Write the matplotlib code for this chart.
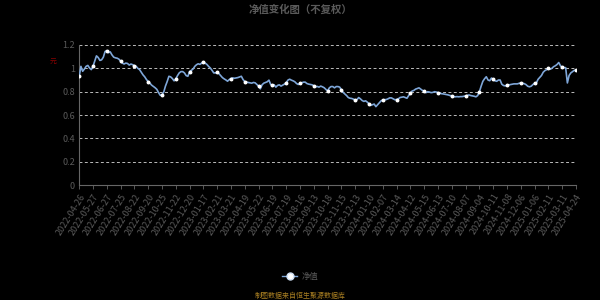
# **** imports ****
import matplotlib
matplotlib.use('Agg')
import matplotlib.pyplot as plt             # for plotting
from matplotlib.lines import Line2D         # for legend handle

plt.rcParams['font.family'] = ['Noto Sans CJK SC', 'DejaVu Sans']

# **** data: net value (8 samples per tick interval) ****
nav = [
    0.932, 1.017, 0.975, 0.994, 1.017, 1.025, 1.003, 0.989,
    1.017, 1.062, 1.107, 1.093, 1.068, 1.073, 1.096, 1.144,
    1.152, 1.135, 1.141, 1.115, 1.096, 1.090, 1.087, 1.079,
    1.062, 1.045, 1.037, 1.045, 1.042, 1.028, 1.037, 1.031,
    1.023, 1.017, 1.000, 0.989, 0.966, 0.944, 0.927, 0.904,
    0.887, 0.873, 0.856, 0.845, 0.834, 0.820, 0.792, 0.769,
    0.775, 0.797, 0.848, 0.887, 0.932, 0.927, 0.913, 0.893,
    0.910, 0.938, 0.961, 0.972, 0.972, 0.961, 0.938, 0.932,
    0.972, 0.983, 0.994, 1.017, 1.031, 1.039, 1.034, 1.045,
    1.056, 1.045, 1.034, 1.017, 1.003, 0.983, 0.961, 0.961,
    0.966, 0.955, 0.938, 0.921, 0.910, 0.901, 0.890, 0.904,
    0.913, 0.918, 0.915, 0.918, 0.921, 0.927, 0.932, 0.904,
    0.887, 0.882, 0.879, 0.876, 0.873, 0.879, 0.876, 0.862,
    0.848, 0.825, 0.859, 0.873, 0.879, 0.885, 0.899, 0.862,
    0.854, 0.859, 0.839, 0.854, 0.859, 0.848, 0.856, 0.865,
    0.876, 0.899, 0.907, 0.899, 0.893, 0.885, 0.870, 0.862,
    0.873, 0.876, 0.882, 0.882, 0.870, 0.865, 0.862, 0.859,
    0.851, 0.842, 0.845, 0.839, 0.848, 0.842, 0.834, 0.820,
    0.806, 0.833, 0.844, 0.844, 0.833, 0.844, 0.844, 0.839,
    0.817, 0.794, 0.781, 0.767, 0.750, 0.744, 0.742, 0.736,
    0.728, 0.731, 0.750, 0.739, 0.725, 0.717, 0.722, 0.711,
    0.697, 0.683, 0.689, 0.694, 0.672, 0.689, 0.706, 0.722,
    0.728, 0.731, 0.733, 0.739, 0.747, 0.747, 0.739, 0.731,
    0.733, 0.739, 0.750, 0.753, 0.756, 0.750, 0.744, 0.767,
    0.786, 0.806, 0.811, 0.822, 0.828, 0.833, 0.822, 0.811,
    0.803, 0.792, 0.800, 0.797, 0.792, 0.794, 0.800, 0.797,
    0.792, 0.789, 0.783, 0.781, 0.778, 0.775, 0.772, 0.767,
    0.764, 0.758, 0.756, 0.758, 0.756, 0.758, 0.758, 0.761,
    0.764, 0.769, 0.772, 0.767, 0.764, 0.761, 0.756, 0.767,
    0.800, 0.847, 0.889, 0.911, 0.928, 0.900, 0.894, 0.917,
    0.906, 0.894, 0.889, 0.900, 0.900, 0.864, 0.853, 0.850,
    0.856, 0.858, 0.861, 0.864, 0.867, 0.867, 0.867, 0.872,
    0.875, 0.872, 0.869, 0.861, 0.847, 0.842, 0.847, 0.861,
    0.872, 0.875, 0.906, 0.922, 0.939, 0.967, 0.981, 0.989,
    1.000, 0.992, 1.000, 1.014, 1.022, 1.033, 1.050, 1.022,
    1.008, 1.006, 1.006, 0.875, 0.939, 0.961, 0.972, 0.983,
    0.983,
]

# **** x tick labels (one every 8 samples) ****
tick_labels = [
    '2022-04-26', '2022-05-27', '2022-06-27', '2022-07-25', '2022-08-22',
    '2022-09-20', '2022-10-25', '2022-11-22', '2022-12-20', '2023-01-17',
    '2023-02-21', '2023-03-21', '2023-04-19', '2023-05-22', '2023-06-19',
    '2023-07-19', '2023-08-16', '2023-09-13', '2023-10-18', '2023-11-15',
    '2023-12-13', '2024-01-10', '2024-02-07', '2024-03-14', '2024-04-12',
    '2024-05-15', '2024-06-13', '2024-07-10', '2024-08-07', '2024-09-04',
    '2024-10-11', '2024-11-08', '2024-12-06', '2025-01-06', '2025-02-11',
    '2025-03-11', '2025-04-24',
]
yticks = [0, 0.2, 0.4, 0.6, 0.8, 1, 1.2]
ytick_labels = ['0', '0.2', '0.4', '0.6', '0.8', '1', '1.2']

step = 8
x = list(range(len(nav)))

# **** colours ****
bg = '#000000'
line_c = '#7ea6d8'
text_c = '#5a5a5a'
axis_c = '#666666'
grid_c = '#bbbbbb'

# **** figure ****
fig = plt.figure(figsize=(6, 3), dpi=100, facecolor=bg)
ax = fig.add_axes([0.132, 0.383, 0.828, 0.467], facecolor=bg)

ax.plot(x, nav, color=line_c, lw=1.2, marker='o', markersize=1.8,
        markevery=step, markerfacecolor='white', markeredgecolor='white',
        zorder=3)

ax.set_xlim(0, len(nav) - 1)
ax.set_ylim(0, 1.2)

# **** grid ****
for yv in yticks[1:]:
    ax.axhline(yv, color=grid_c, lw=0.7, ls=(0, (3, 2.5)), zorder=1)

# **** axes styling ****
for s in ['top', 'right']:
    ax.spines[s].set_visible(False)
ax.spines['left'].set_color(axis_c)
ax.spines['bottom'].set_color(axis_c)
ax.spines['left'].set_linewidth(0.8)
ax.spines['bottom'].set_linewidth(0.8)

ax.set_yticks(yticks)
ax.set_yticklabels(ytick_labels, color=text_c, fontsize=6.5)
ax.tick_params(axis='y', length=0, pad=3)

ax.set_xticks(x[::step])
ax.set_xticklabels(tick_labels, rotation=58, ha='right', rotation_mode='anchor',
                   color=text_c, fontsize=6.5)
ax.tick_params(axis='x', length=3, color=axis_c, width=0.6, pad=2)

# **** title, unit, legend, footer ****
fig.text(0.5, 0.968, '净值变化图（不复权）', ha='center', va='center',
         color=text_c, fontsize=7.5, fontweight='bold')
fig.text(0.088, 0.795, '元', ha='center', va='center', color='#8b0000',
         fontsize=5)

handle = Line2D([0], [0], color=line_c, lw=1.0, marker='o', markersize=5,
                markerfacecolor='white', markeredgecolor='#cfe0f5')
fig.legend([handle], ['净值'], loc='center', bbox_to_anchor=(0.5, 0.08),
           frameon=False, fontsize=6, labelcolor=text_c, handlelength=1.8,
           handletextpad=0.5)

fig.text(0.5, 0.013, '制图数据来自恒生聚源数据库', ha='center', va='center',
         color='#a97f22', fontsize=5)

plt.savefig('out.png', dpi=100, facecolor=bg)
